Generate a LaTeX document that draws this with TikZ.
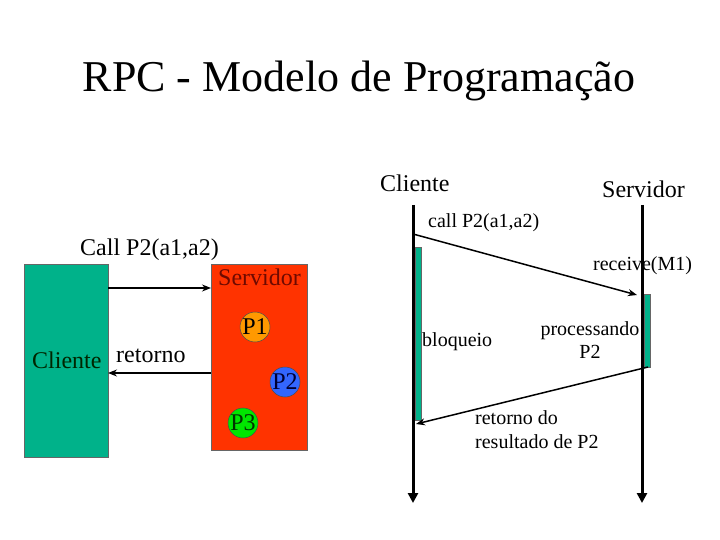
\documentclass[tikz,border=0pt]{standalone}
\usepackage{fontspec}
\setmainfont{Liberation Serif}
\usetikzlibrary{arrows.meta}
\definecolor{tealbox}{RGB}{0,178,138}
\definecolor{redbox}{RGB}{255,51,0}
\definecolor{orangec}{RGB}{255,153,0}
\definecolor{bluec}{RGB}{51,102,255}
\definecolor{greenc}{RGB}{0,230,0}
\definecolor{darkred}{RGB}{110,10,0}
\tikzset{
  lbl/.style={inner sep=0pt, anchor=base west, font=\fontsize{20}{24}\selectfont},
  big/.style={inner sep=0pt, anchor=base west, font=\fontsize{24}{28}\selectfont},
  proc/.style={circle, draw=black!70, line width=0.5pt, minimum size=30pt, inner sep=0pt, font=\fontsize{24}{28}\selectfont},
  msg/.style={line width=1.5pt, -{Stealth[length=9pt,width=7pt]}},
  tline/.style={line width=3pt, -{Triangle[length=10pt,width=10pt]}},
  bar/.style={fill=tealbox, draw=black!60, line width=0.4pt}
}
\begin{document}
\begin{tikzpicture}[x=1pt,y=-1pt]
\useasboundingbox[fill=white] (0,0) rectangle (720,540);
% title
\node[inner sep=0pt, anchor=base, font=\fontsize{44}{50}\selectfont] (title) at (359,92) {RPC - Modelo de Programação};

% left panel
\node[draw=black!60, line width=0.5pt, fill=tealbox, minimum width=84pt, minimum height=193pt, anchor=north west, inner sep=0pt] (cli) at (24,264) {};
\node[draw=black!60, line width=0.5pt, fill=redbox, minimum width=96pt, minimum height=186pt, anchor=north west, inner sep=0pt] (srv) at (211,264) {};
\node[big, text=black!85!green] (clitxt) at (32,368) {Cliente};
\node[big, text=darkred] (srvtxt) at (218,285) {Servidor};
\node[big] (calltxt) at (80,255) {Call P2(a1,a2)};
\node[big] (rettxt) at (116,362) {retorno};
\node[proc, fill=orangec] (p1) at (255,327) {P1};
\node[proc, fill=bluec, text=black!80!blue] (p2) at (285,382) {P2};
\node[proc, fill=greenc, text=black!80!green] (p3) at (243,423) {P3};
\coordinate (a1s) at (108,288);
\coordinate (a1e) at (211,288);
\coordinate (a2s) at (211,373);
\coordinate (a2e) at (108,373);
\draw[msg, line width=1.2pt] (a1s) -- (a1e);
\draw[msg, line width=1.2pt] (a2s) -- (a2e);

% right panel
\node[big] (rcli) at (380,192) {Cliente};
\node[big] (rsrv) at (602,198) {Servidor};
\coordinate (ct) at (413,205);
\coordinate (cb) at (413,503);
\coordinate (st) at (642,205);
\coordinate (sb) at (642,503);
\draw[tline] (ct) -- (cb);
\draw[tline] (st) -- (sb);
\node[bar, minimum width=6pt, minimum height=173pt, anchor=north west, inner sep=0pt] (cbar) at (414.5,247) {};
\node[bar, minimum width=6pt, minimum height=73pt, anchor=north west, inner sep=0pt] (sbar) at (643.5,294) {};
\coordinate (m1s) at (413,234);
\coordinate (m1e) at (637,295);
\coordinate (m2s) at (648,367);
\coordinate (m2e) at (416,424);
\draw[msg] (m1s) -- (m1e);
\draw[msg] (m2s) -- (m2e);
\node[lbl] (calllbl) at (428,227) {call P2(a1,a2)};
\node[lbl] (rcv) at (593,270) {receive(M1)};
\node[lbl] (blq) at (422,346) {bloqueio};
\node[lbl, anchor=base] (proc1) at (590,335) {processando};
\node[lbl, anchor=base] (proc2) at (590,358) {P2};
\node[lbl] (ret1) at (475,424) {retorno do};
\node[lbl] (ret2) at (475,448) {resultado de P2};
\end{tikzpicture}
\end{document}
